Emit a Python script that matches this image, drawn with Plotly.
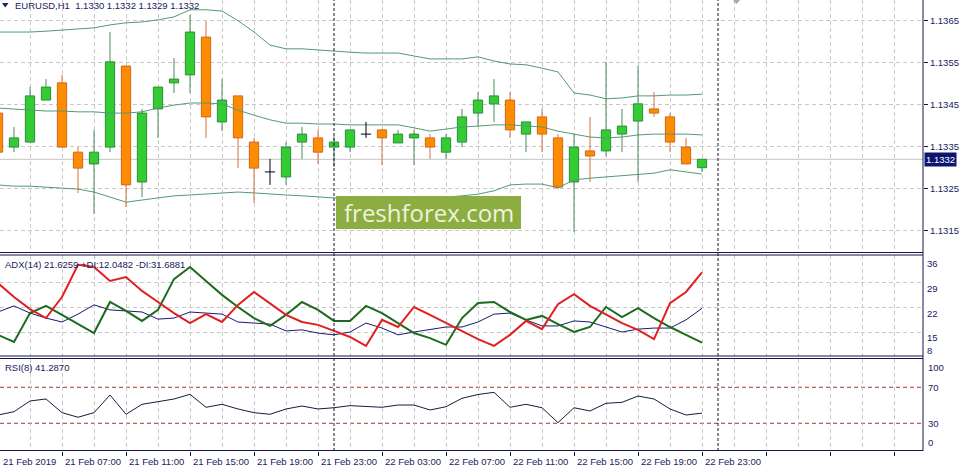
import plotly.graph_objects as go
import pandas as pd

# ---------------- data ----------------
TIMES = pd.date_range("2019-02-21 03:00", periods=45, freq="h")

OPEN = [1.13430, 1.13349, 1.13361, 1.13461, 1.13502, 1.13337, 1.13309, 1.13349, 1.13542, 1.13266,
        1.13440, 1.13502, 1.13521, 1.13611, 1.13409, 1.13471, 1.13361, 1.13290, 1.13278, 1.13361,
        1.13371, 1.13349, 1.13349, 1.13380, 1.13390, 1.13359, 1.13371, 1.13371, 1.13337, 1.13361,
        1.13430, 1.13452, 1.13461, 1.13380, 1.13421, 1.13371, 1.13266, 1.13340, 1.13340, 1.13380,
        1.13411, 1.13440, 1.13421, 1.13349, 1.13300]
HIGH = [1.13442, 1.13397, 1.13492, 1.13511, 1.13521, 1.13349, 1.13390, 1.13623, 1.13542, 1.13440,
        1.13492, 1.13561, 1.13664, 1.13649, 1.13511, 1.13471, 1.13371, 1.13321, 1.13361, 1.13397,
        1.13390, 1.13375, 1.13390, 1.13409, 1.13392, 1.13390, 1.13390, 1.13380, 1.13380, 1.13440,
        1.13480, 1.13511, 1.13480, 1.13409, 1.13440, 1.13380, 1.13380, 1.13421, 1.13552, 1.13440,
        1.13542, 1.13480, 1.13430, 1.13371, 1.13320]
LOW = [1.13328, 1.13337, 1.13361, 1.13461, 1.13349, 1.13240, 1.13190, 1.13337, 1.13206, 1.13230,
       1.13371, 1.13478, 1.13478, 1.13371, 1.13387, 1.13299, 1.13216, 1.13259, 1.13259, 1.13321,
       1.13309, 1.13302, 1.13337, 1.13371, 1.13306, 1.13359, 1.13306, 1.13321, 1.13321, 1.13349,
       1.13399, 1.13409, 1.13371, 1.13337, 1.13337, 1.13249, 1.13147, 1.13266, 1.13328, 1.13337,
       1.13266, 1.13421, 1.13337, 1.13309, 1.13290]
CLOSE = [1.13337, 1.13371, 1.13471, 1.13492, 1.13349, 1.13299, 1.13337, 1.13552, 1.13259, 1.13430,
         1.13492, 1.13511, 1.13623, 1.13421, 1.13461, 1.13371, 1.13299, 1.13290, 1.13349, 1.13380,
         1.13337, 1.13361, 1.13390, 1.13380, 1.13371, 1.13380, 1.13380, 1.13349, 1.13371, 1.13421,
         1.13461, 1.13471, 1.13390, 1.13409, 1.13380, 1.13254, 1.13349, 1.13328, 1.13390, 1.13399,
         1.13452, 1.13430, 1.13361, 1.13309, 1.13320]

BB_UPPER = [1.13623, 1.13623, 1.13623, 1.13625, 1.13628, 1.13630, 1.13633, 1.13640, 1.13645, 1.13647,
            1.13652, 1.13659, 1.13676, 1.13676, 1.13673, 1.13650, 1.13623, 1.13592, 1.13583, 1.13583,
            1.13580, 1.13578, 1.13575, 1.13573, 1.13573, 1.13573, 1.13566, 1.13559, 1.13559, 1.13559,
            1.13564, 1.13554, 1.13547, 1.13545, 1.13537, 1.13528, 1.13478, 1.13473, 1.13464, 1.13466,
            1.13471, 1.13471, 1.13473, 1.13473, 1.13475]
BB_MIDDLE = [1.13442, 1.13440, 1.13437, 1.13435, 1.13435, 1.13433, 1.13433, 1.13430, 1.13430, 1.13433,
             1.13442, 1.13449, 1.13454, 1.13454, 1.13452, 1.13437, 1.13425, 1.13414, 1.13406, 1.13406,
             1.13404, 1.13404, 1.13402, 1.13402, 1.13402, 1.13402, 1.13395, 1.13387, 1.13392, 1.13397,
             1.13399, 1.13402, 1.13402, 1.13399, 1.13397, 1.13387, 1.13380, 1.13373, 1.13371, 1.13373,
             1.13378, 1.13380, 1.13380, 1.13380, 1.13378]
BB_LOWER = [1.13259, 1.13256, 1.13256, 1.13254, 1.13252, 1.13249, 1.13242, 1.13230, 1.13218, 1.13223,
            1.13228, 1.13233, 1.13235, 1.13237, 1.13240, 1.13242, 1.13240, 1.13237, 1.13235, 1.13233,
            1.13230, 1.13228, 1.13228, 1.13228, 1.13228, 1.13228, 1.13230, 1.13230, 1.13230, 1.13233,
            1.13237, 1.13245, 1.13259, 1.13261, 1.13261, 1.13252, 1.13271, 1.13275, 1.13278, 1.13280,
            1.13283, 1.13287, 1.13295, 1.13290, 1.13285]

ADX = [20.6, 22.3, 20.3, 18.9, 17.8, 20.0, 22.6, 21.2, 20.9, 20.6,
       18.6, 18.9, 20.6, 20.3, 20.0, 17.8, 17.5, 17.2, 15.3, 15.6,
       14.7, 14.2, 15.0, 17.5, 16.1, 14.2, 15.0, 15.8, 16.4, 16.4,
       17.8, 20.0, 20.3, 18.4, 16.7, 16.7, 18.1, 17.8, 16.4, 15.0,
       15.8, 16.1, 16.1, 18.4, 21.63]
PLUS_DI = [14.2, 12.2, 20.3, 22.3, 19.8, 17.2, 14.7, 23.4, 20.9, 18.1,
           21.2, 29.8, 33.2, 29.3, 25.4, 22.0, 18.9, 16.7, 19.8, 23.4,
           21.2, 18.1, 18.1, 22.3, 20.3, 17.5, 14.7, 13.3, 11.4, 18.9,
           23.1, 23.4, 20.6, 18.4, 19.5, 17.2, 15.0, 16.4, 22.0, 19.2,
           21.7, 18.9, 16.4, 14.2, 12.05]
MINUS_DI = [28.7, 24.8, 21.4, 18.9, 24.8, 33.8, 33.2, 29.3, 30.4, 26.5,
            23.4, 20.3, 17.5, 20.0, 17.8, 22.6, 26.2, 23.1, 19.8, 17.8,
            17.0, 15.3, 13.6, 11.1, 18.4, 16.4, 22.0, 19.8, 17.5, 15.3,
            13.0, 11.1, 14.2, 18.1, 15.8, 22.8, 25.6, 22.3, 19.8, 17.5,
            15.6, 13.0, 23.1, 26.2, 31.69]
RSI = [39.2, 42.9, 54.8, 57.0, 41.8, 36.7, 41.8, 61.4, 40.0, 51.1,
       54.0, 57.0, 62.2, 47.8, 51.1, 45.9, 41.8, 40.0, 45.9, 49.2,
       45.9, 47.3, 49.6, 48.4, 47.8, 50.3, 50.3, 44.8, 48.4, 57.8,
       62.0, 64.4, 47.8, 51.1, 47.3, 30.7, 47.3, 43.7, 52.2, 53.3,
       60.3, 57.0, 45.9, 39.2, 41.29]

PRICE_TICKS = [1.1315, 1.1325, 1.1335, 1.1345, 1.1355, 1.1365]
BID = 1.1332
ADX_LABELS = [36, 29, 22, 15]
ADX_MIN_LABEL = 8
ADX_GRID = [15, 22, 29]
RSI_LEVELS = [70, 30]
RSI_LABELS = [100, 70, 30, 0]
TIME_LABELS = ["21 Feb 2019", "21 Feb 07:00", "21 Feb 11:00", "21 Feb 15:00", "21 Feb 19:00",
               "21 Feb 23:00", "22 Feb 03:00", "22 Feb 07:00", "22 Feb 11:00", "22 Feb 15:00",
               "22 Feb 19:00", "22 Feb 23:00"]
SEPARATORS = ["2019-02-22 00:00", "2019-02-23 00:00"]
HEADER = "EURUSD,H1  1.1330 1.1332 1.1329 1.1332"
ADX_TITLE = "ADX(14) 21.6259 +DI:12.0482 -DI:31.6881"
RSI_TITLE = "RSI(8) 41.2870"
LOGO = "freshforex.com"

# ---------------- styling / layout constants ----------------
W, H = 966, 471
PLOT_W, PLOT_H = 923, 451
PX_PER_HOUR = 16.0
FONT = "Liberation Sans, Arial, sans-serif"
NAVY = "#20205e"
FRAME = "#14144a"
GRID = "#c8c8c8"
UP_FILL, UP_LINE, UP_WICK = "#33cc33", "#2c8c3c", "#4a8a5c"
DN_FILL, DN_LINE, DN_WICK = "#ff8c00", "#d0671c", "#d07040"
BAND = "#529a77"
HOUR = pd.Timedelta(hours=1)


def px(x):
    return x / PLOT_W


def py(y):
    return (PLOT_H - y) / PLOT_H


x_left = TIMES[0] + HOUR * (2 / PX_PER_HOUR)
x_right = TIMES[0] + HOUR * (925 / PX_PER_HOUR)


def t_paper(t):
    return (t - x_left) / (x_right - x_left)


n = len(TIMES)
up = [i for i in range(n) if CLOSE[i] > OPEN[i]]
dn = [i for i in range(n) if CLOSE[i] < OPEN[i]]
dj = [i for i in range(n) if CLOSE[i] == OPEN[i]]

fig = go.Figure()

# Bollinger bands
for arr in (BB_UPPER, BB_MIDDLE, BB_LOWER):
    fig.add_trace(go.Scatter(x=TIMES, y=arr, mode="lines", line=dict(color=BAND, width=1),
                             hoverinfo="skip", xaxis="x", yaxis="y"))


def wicks(idx):
    xs, ys = [], []
    for i in idx:
        top, bot = max(OPEN[i], CLOSE[i]), min(OPEN[i], CLOSE[i])
        t = TIMES[i]
        xs += [t, t, None, t, t, None]
        ys += [HIGH[i], top, None, bot, LOW[i], None]
    return xs, ys


for idx, col in ((up, UP_WICK), (dn, DN_WICK)):
    xs, ys = wicks(idx)
    fig.add_trace(go.Scatter(x=xs, y=ys, mode="lines", line=dict(color=col, width=1),
                             hoverinfo="skip", xaxis="x", yaxis="y"))

BODY_W = 0.58 * 3600 * 1000
for idx, fill, line in ((up, UP_FILL, UP_LINE), (dn, DN_FILL, DN_LINE)):
    fig.add_trace(go.Bar(x=[TIMES[i] for i in idx],
                         y=[abs(CLOSE[i] - OPEN[i]) for i in idx],
                         base=[min(OPEN[i], CLOSE[i]) for i in idx],
                         width=BODY_W, marker=dict(color=fill, line=dict(color=line, width=1)),
                         hoverinfo="skip", xaxis="x", yaxis="y"))

# doji crosses
xs, ys = [], []
for i in dj:
    t = TIMES[i]
    xs += [t, t, None, t - HOUR * 0.32, t + HOUR * 0.32, None]
    ys += [HIGH[i], LOW[i], None, OPEN[i], OPEN[i], None]
fig.add_trace(go.Scatter(x=xs, y=ys, mode="lines", line=dict(color="#000000", width=1),
                         hoverinfo="skip", xaxis="x", yaxis="y"))

# ADX panel
fig.add_trace(go.Scatter(x=TIMES, y=ADX, mode="lines", line=dict(color="#1a1a70", width=1),
                         hoverinfo="skip", xaxis="x2", yaxis="y2"))
fig.add_trace(go.Scatter(x=TIMES, y=PLUS_DI, mode="lines", line=dict(color="#1e6b1e", width=2),
                         hoverinfo="skip", xaxis="x2", yaxis="y2"))
fig.add_trace(go.Scatter(x=TIMES, y=MINUS_DI, mode="lines", line=dict(color="#e02020", width=2),
                         hoverinfo="skip", xaxis="x2", yaxis="y2"))

# RSI panel
fig.add_trace(go.Scatter(x=TIMES, y=RSI, mode="lines", line=dict(color="#1a1a3a", width=1),
                         hoverinfo="skip", xaxis="x3", yaxis="y3"))

# grid times
major = []
t = TIMES[0]
while t <= x_right:
    major.append(t)
    t += HOUR * 4
minor = [m + HOUR * 2 for m in major if m + HOUR * 2 <= x_right]

dom_main = [py(252.5), 1.0]
dom_adx = [py(356), py(255)]
dom_rsi = [0.0, py(358.5)]

xcommon = dict(type="date", range=[x_left, x_right], showgrid=True, gridcolor=GRID,
               griddash="4px,3px", gridwidth=1, tickmode="array", tickvals=major,
               showticklabels=False, zeroline=False, showline=False,
               minor=dict(tickvals=minor, showgrid=True, gridcolor=GRID, griddash="4px,3px",
                          gridwidth=1, ticks=""))

fig.update_layout(
    width=W, height=H, margin=dict(l=0, r=W - PLOT_W, t=0, b=H - PLOT_H),
    paper_bgcolor="white", plot_bgcolor="white", showlegend=False, barmode="overlay",
    font=dict(family=FONT, size=9.5, color=NAVY),
    xaxis=dict(domain=[0, 1], anchor="y", ticks="", **xcommon),
    xaxis2=dict(domain=[0, 1], anchor="y2", ticks="", **xcommon),
    xaxis3=dict(domain=[0, 1], anchor="y3", ticks="outside", ticklen=4, tickcolor=FRAME, **xcommon),
    yaxis=dict(domain=dom_main, anchor="x", side="right",
               range=[1.1365 - 231.8 / 42000, 1.1365 + 20.7 / 42000],
               tickmode="array", tickvals=PRICE_TICKS, ticktext=[f"{v:.4f}" for v in PRICE_TICKS],
               ticks="outside", ticklen=4, tickcolor=FRAME, showgrid=True, gridcolor=GRID,
               griddash="4px,3px", zeroline=False, showline=False,
               tickfont=dict(family=FONT, size=9.5, color=NAVY)),
    yaxis2=dict(domain=dom_adx, anchor="x2", side="right", range=[8.28, 36.56],
                tickmode="array", tickvals=ADX_GRID, showticklabels=False, ticks="",
                showgrid=True, gridcolor=GRID, griddash="4px,3px", zeroline=False, showline=False),
    yaxis3=dict(domain=dom_rsi, anchor="x3", side="right", range=[-0.8, 102.0],
                tickmode="array", tickvals=[], showticklabels=False, ticks="",
                showgrid=False, zeroline=False, showline=False),
)

shapes = []
# bid line
shapes.append(dict(type="line", xref="x domain", yref="y", x0=0, x1=1, y0=BID, y1=BID,
                   line=dict(color="#c4c4c4", width=1), layer="below"))
# RSI levels
for lv in RSI_LEVELS:
    shapes.append(dict(type="line", xref="x3 domain", yref="y3", x0=0, x1=1, y0=lv, y1=lv,
                       line=dict(color="#b03030", width=1, dash="4px,3px"), layer="below"))
# period separators
for s in SEPARATORS:
    shapes.append(dict(type="line", xref="x", yref="paper", x0=s, x1=s, y0=0, y1=1,
                       line=dict(color="#101030", width=1, dash="3px,2px"), layer="above"))
# frames
for yy in (252.5, 255, 356, 358.5, 450.5):
    shapes.append(dict(type="line", xref="paper", yref="paper", x0=0, x1=1, y0=py(yy), y1=py(yy),
                       line=dict(color=FRAME, width=1), layer="above"))
shapes.append(dict(type="line", xref="paper", yref="paper", x0=1, x1=1, y0=0, y1=1,
                   line=dict(color=FRAME, width=1), layer="above"))
# logo box
shapes.append(dict(type="rect", xref="paper", yref="paper", x0=px(336), x1=px(521),
                   y0=py(229), y1=py(196), fillcolor="#8cad42", line=dict(width=0), layer="above"))
# header triangle
shapes.append(dict(type="path", xref="paper", yref="paper",
                   path=f"M {px(2)},{py(3)} L {px(8.5)},{py(3)} L {px(5.25)},{py(7.5)} Z",
                   fillcolor=NAVY, line=dict(width=0), layer="above"))
# chart shift marker
shapes.append(dict(type="path", xref="paper", yref="paper",
                   path=f"M {px(733)},{py(0)} L {px(740)},{py(0)} L {px(736.5)},{py(4)} Z",
                   fillcolor="#a8a8a8", line=dict(width=0), layer="above"))
fig.update_layout(shapes=shapes)

small = dict(family=FONT, size=9.5, color=NAVY)
ann = []
ann.append(dict(text=HEADER, xref="paper", yref="paper", x=px(13), y=py(5.5), xanchor="left",
                yanchor="middle", showarrow=False, font=small))
ann.append(dict(text=ADX_TITLE, xref="paper", yref="paper", x=px(2.5), y=py(264.5), xanchor="left",
                yanchor="middle", showarrow=False, font=small))
ann.append(dict(text=RSI_TITLE, xref="paper", yref="paper", x=px(2.5), y=py(367.5), xanchor="left",
                yanchor="middle", showarrow=False, font=small))
# logo text
ann.append(dict(text=LOGO, xref="paper", yref="paper", x=px(429), y=py(212), xanchor="center",
                yanchor="middle", showarrow=False, font=dict(family="Open Sans", size=24, color="#eef3dc")))
# bid label
ann.append(dict(text=f"{BID:.4f}", xref="paper", yref="y", x=1, y=BID, xanchor="left",
                yanchor="middle", xshift=1, showarrow=False, bgcolor="#0c1670", borderpad=1,
                font=dict(family=FONT, size=9.5, color="white")))
# ADX labels
for lv in ADX_LABELS:
    ann.append(dict(text=str(lv), xref="paper", yref="y2", x=1, y=lv, xanchor="left", yanchor="top",
                    xshift=3, yshift=1 if lv == 15 else 0, borderpad=0, showarrow=False, font=small))
ann.append(dict(text=str(ADX_MIN_LABEL), xref="paper", yref="paper", x=1, y=py(356.5), xanchor="left",
                yanchor="bottom", xshift=3, borderpad=0, showarrow=False, font=small))
# RSI labels
for lv in RSI_LABELS:
    ya = "top" if lv == 100 else ("bottom" if lv == 0 else "middle")
    ann.append(dict(text=str(lv), xref="paper", yref="y3", x=1, y=lv, xanchor="left", yanchor=ya,
                    xshift=3, showarrow=False, font=small))
# time labels (placed in paper coordinates so the first one, left of the view, stays visible)
for k, lab in enumerate(TIME_LABELS):
    xp = max(t_paper(major[k]), 0.0)
    ann.append(dict(text=lab, xref="paper", yref="paper", x=xp, y=0, xanchor="left", yanchor="top",
                    xshift=1, yshift=-3, showarrow=False, font=small))
fig.update_layout(annotations=ann)

fig.write_html("out.html", config={"displayModeBar": False},
               post_script="document.body.style.margin='0';document.body.style.overflow='hidden';")
